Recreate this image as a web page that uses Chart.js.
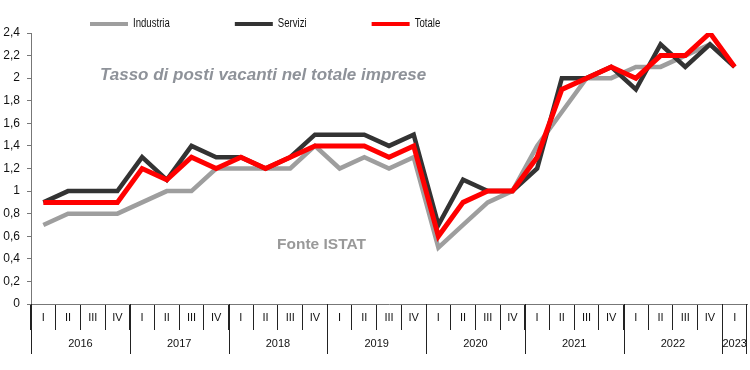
<!DOCTYPE html>
<html>
<head>
<meta charset="utf-8">
<script src="https://cdn.jsdelivr.net/npm/chart.js@4"></script>
<style>
  html, body { margin: 0; padding: 0; background: #fff; }
  #wrap { width: 750px; height: 370px; position: relative; }
</style>
</head>
<body>
<div id="wrap"><canvas id="chart"></canvas></div>
<script>
const quarters = ['I','II','III','IV','I','II','III','IV','I','II','III','IV','I','II','III','IV',
                  'I','II','III','IV','I','II','III','IV','I','II','III','IV','I'];
const years = ['2016','2017','2018','2019','2020','2021','2022','2023'];
const yearQuarters = [4,4,4,4,4,4,4,1];

const industria = [0.7,0.8,0.8,0.8, 0.9,1.0,1.0,1.2, 1.2,1.2,1.2,1.4, 1.2,1.3,1.2,1.3,
                   0.5,0.7,0.9,1.0, 1.4,1.7,2.0,2.0, 2.1,2.1,2.2,2.3, 2.1];
const servizi = [0.9,1.0,1.0,1.0, 1.3,1.1,1.4,1.3, 1.3,1.2,1.3,1.5, 1.5,1.5,1.4,1.5,
                 0.7,1.1,1.0,1.0, 1.2,2.0,2.0,2.1, 1.9,2.3,2.1,2.3, 2.1];
const totale = [0.9,0.9,0.9,0.9, 1.2,1.1,1.3,1.2, 1.3,1.2,1.3,1.4, 1.4,1.4,1.3,1.4,
                0.6,0.9,1.0,1.0, 1.3,1.9,2.0,2.1, 2.0,2.2,2.2,2.4, 2.1];

const sans = "'Liberation Sans', Arial, sans-serif";

// legend drawn as line samples above the plot; text squeezed to look like a narrow face
const legendPlugin = {
    id: 'lineLegend',
    afterDraw(chart) {
        const { ctx } = chart;
        const squeeze = 0.8;
        let x = 90;
        const y = 24;
        ctx.save();
        ctx.font = '12px ' + sans;
        ctx.textBaseline = 'middle';
        ctx.textAlign = 'left';
        chart.data.datasets.forEach(ds => {
            ctx.strokeStyle = ds.borderColor;
            ctx.lineWidth = 4;
            ctx.beginPath();
            ctx.moveTo(x, y);
            ctx.lineTo(x + 38, y);
            ctx.stroke();
            ctx.save();
            ctx.translate(x + 43, y);
            ctx.scale(squeeze, 1);
            ctx.fillStyle = '#111';
            ctx.fillText(ds.label, 0, 0);
            ctx.restore();
            x += 43 + ctx.measureText(ds.label).width * squeeze + 65;
        });
        ctx.restore();
    }
};

// year row under the quarter labels
const yearPlugin = {
    id: 'yearAxis',
    afterDraw(chart) {
        const { ctx } = chart;
        const xs = chart.scales.x;
        const half = (xs.getPixelForValue(1) - xs.getPixelForValue(0)) / 2;
        const top = xs.top;
        ctx.save();
        ctx.strokeStyle = '#222';
        ctx.lineWidth = 1;
        ctx.fillStyle = '#111';
        ctx.font = '11px ' + sans;
        ctx.textAlign = 'center';
        ctx.textBaseline = 'middle';
        let idx = 0;
        let right = 0;
        years.forEach((yr, i) => {
            const left = xs.getPixelForValue(idx) - half;
            right = xs.getPixelForValue(idx + yearQuarters[i] - 1) + half;
            ctx.beginPath();
            ctx.moveTo(Math.round(left) + 0.5, top);
            ctx.lineTo(Math.round(left) + 0.5, top + 50);
            ctx.stroke();
            ctx.fillText(yr, (left + right) / 2, top + 40);
            idx += yearQuarters[i];
        });
        ctx.beginPath();
        ctx.moveTo(Math.round(right) - 0.5, top);
        ctx.lineTo(Math.round(right) - 0.5, top + 50);
        ctx.stroke();
        ctx.restore();
    }
};

// free texts inside the plot
const notesPlugin = {
    id: 'notes',
    afterDraw(chart) {
        const { ctx } = chart;
        ctx.save();
        ctx.textAlign = 'left';
        ctx.textBaseline = 'alphabetic';
        ctx.fillStyle = '#8e9299';
        ctx.font = 'italic bold 17px ' + sans;
        ctx.fillText('Tasso di posti vacanti nel totale imprese', 100, 80);
        ctx.fillStyle = '#999';
        ctx.font = 'bold 15.5px ' + sans;
        ctx.fillText('Fonte ISTAT', 277, 249);
        ctx.restore();
    }
};

new Chart(document.getElementById('chart'), {
    type: 'line',
    data: {
        labels: quarters,
        datasets: [
            { label: 'Industria', data: industria, borderColor: '#9e9e9e', borderWidth: 4.5, order: 2 },
            { label: 'Servizi', data: servizi, borderColor: '#333333', borderWidth: 4.5, order: 1 },
            { label: 'Totale', data: totale, borderColor: '#ff0000', borderWidth: 5, order: 0 }
        ]
    },
    options: {
        responsive: true,
        maintainAspectRatio: false,
        animation: false,
        elements: { point: { radius: 0 }, line: { tension: 0, fill: false } },
        layout: { padding: { top: 33, right: 3, left: 0, bottom: 0 } },
        plugins: { legend: { display: false }, tooltip: { enabled: false } },
        scales: {
            x: {
                offset: true,
                grid: { offset: true, drawOnChartArea: false, tickLength: 26, color: '#222' },
                border: { color: '#777' },
                ticks: { color: '#111', font: { family: sans, size: 11 }, padding: -19, maxRotation: 0, autoSkip: false },
                afterFit(scale) { scale.height = 66; }
            },
            y: {
                min: 0,
                max: 2.4,
                grid: { drawOnChartArea: false, tickLength: 4, color: '#777' },
                border: { color: '#777' },
                ticks: {
                    stepSize: 0.2,
                    padding: 7,
                    color: '#111',
                    font: { family: sans, size: 12 },
                    callback: v => (Math.round(v * 10) / 10).toString().replace('.', ',')
                },
                afterFit(scale) { scale.width = 31; }
            }
        }
    },
    plugins: [legendPlugin, yearPlugin, notesPlugin]
});
</script>
</body>
</html>
